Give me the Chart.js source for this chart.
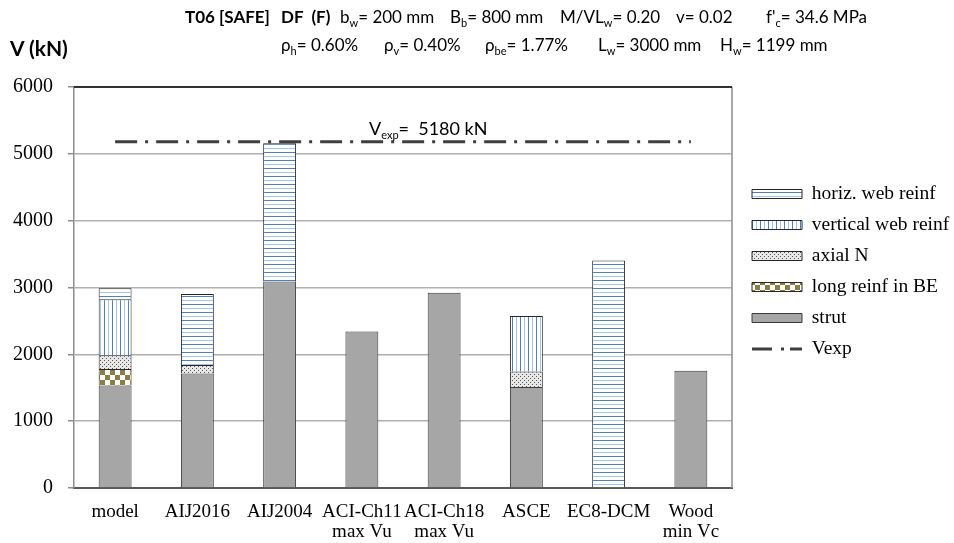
<!DOCTYPE html>
<html><head><meta charset="utf-8">
<script src="https://cdn.jsdelivr.net/npm/chart.js@4.4.1/dist/chart.umd.min.js"></script>
<style>
html,body{margin:0;padding:0;background:#fff;}
#wrap{position:relative;width:954px;height:543px;overflow:hidden;background:#fff;}
canvas{position:absolute;left:0;top:0;}
.t{position:absolute;font-family:Lato,"Open Sans",sans-serif;font-size:17px;color:#000;white-space:pre;line-height:22px;}
.t sub{font-size:11px;vertical-align:baseline;position:relative;top:4px;}
.b{font-weight:bold;}
</style></head><body>
<div id="wrap">
<canvas id="c" width="954" height="543"></canvas>
<div class="t b" style="left:185px;top:6px">T06 [SAFE]</div>
<div class="t b" style="left:281px;top:6px">DF  (F)</div>
<div class="t" style="left:340px;top:6px">b<sub>w</sub>= 200 mm</div>
<div class="t" style="left:450px;top:6px">B<sub>b</sub>= 800 mm</div>
<div class="t" style="left:560px;top:6px">M/VL<sub>w</sub>= 0.20</div>
<div class="t" style="left:676px;top:6px">v= 0.02</div>
<div class="t" style="left:766px;top:6px">f'<sub>c</sub>= 34.6 MPa</div>
<div class="t" style="left:281px;top:34px">ρ<sub>h</sub>= 0.60%</div>
<div class="t" style="left:384px;top:34px">ρ<sub>v</sub>= 0.40%</div>
<div class="t" style="left:485px;top:34px">ρ<sub>be</sub>= 1.77%</div>
<div class="t" style="left:598px;top:34px">L<sub>w</sub>= 3000 mm</div>
<div class="t" style="left:720px;top:34px">H<sub>w</sub>= 1199 mm</div>
<div class="t b" style="left:10px;top:37px;font-size:21px">V (kN)</div>
<div id="vexpLabel" class="t" style="left:369px;top:118px;font-size:18px">V<sub>exp</sub>=  5180 kN</div>
</div>
<script>
// ---- data ----
const categories = ['model', 'AIJ2016', 'AIJ2004', 'ACI-Ch11\nmax Vu', 'ACI-Ch18\nmax Vu', 'ASCE', 'EC8-DCM', 'Wood\nmin Vc'];
const strutValues       = [1535, 1715, 3090, 2340, 2920, 1510, null, 1755];
const longReinfBEValues = [245, null, null, null, null, null, null, null];
const axialNValues      = [205, 125, null, null, null, 235, null, null];
const verticalWebValues = [840, null, null, null, null, 830, null, null];
const horizWebValues    = [165, 1063, 2070, null, null, null, 3405, null];
const vexpValues        = [5180, 5180, 5180, 5180, 5180, 5180, 5180, 5180];
const seriesNames = ['strut', 'long reinf in BE', 'axial N', 'vertical web reinf', 'horiz. web reinf', 'Vexp'];
const yTickMin = 0, yTickMax = 6000, yTickStep = 1000;
const legendOrder = [4, 3, 2, 1, 0, 5];

// ---- patterns ----
function makePattern(w, h, draw) {
  const c = document.createElement('canvas'); c.width = w; c.height = h;
  const g = c.getContext('2d'); g.fillStyle = '#fff'; g.fillRect(0, 0, w, h); draw(g);
  return g.createPattern(c, 'repeat');
}
const pHoriz = makePattern(4, 8, g => { g.fillStyle = '#4f81bd'; g.fillRect(0, 0, 4, 1); g.fillStyle = '#a9c3e6'; g.fillRect(0, 4, 4, 1); });
const pVert = makePattern(8, 4, g => { g.fillStyle = '#4f81bd'; g.fillRect(0, 0, 1, 4); g.fillStyle = '#a9c3e6'; g.fillRect(4, 0, 1, 4); });
const pDots = makePattern(4, 4, g => { g.fillStyle = '#e8e8e8'; g.fillRect(0, 0, 4, 4); g.fillStyle = '#555'; g.fillRect(0, 0, 1, 1); g.fillRect(2, 2, 1, 1); });
const pCheck = makePattern(10, 10, g => { g.fillStyle = '#8a7d45'; g.fillRect(0, 0, 5, 5); g.fillRect(5, 5, 5, 5); });

const serif = "'Liberation Serif','Times New Roman',serif";
const barCommon = { categoryPercentage: 1, barPercentage: 0.4, borderColor: '#262626', borderWidth: 1, stack: 'v' };

const LEG_PAD = 11.5, LEG_FONT = 19.5, LEG_BOX_X = 752, LEG_FIRST_Y = 194;

const layoutPlugin = {
  id: 'layoutTweak',
  afterLayout(chart) {
    const lg = chart.legend;
    if (!lg) return;
    lg.left = LEG_BOX_X - LEG_PAD; lg.right = 954;
    lg.top = LEG_FIRST_Y - LEG_FONT / 2 - LEG_PAD; lg.bottom = 543;
  },
  afterDraw(chart) {
    const ctx = chart.ctx, a = chart.chartArea;
    ctx.save();
    ctx.strokeStyle = '#8c8c8c'; ctx.lineWidth = 1.5;
    ctx.beginPath(); ctx.moveTo(a.right, a.top); ctx.lineTo(a.right, a.bottom); ctx.stroke();
    ctx.strokeStyle = '#000'; ctx.lineWidth = 1.5;
    ctx.beginPath(); ctx.moveTo(a.left, a.top); ctx.lineTo(a.right, a.top); ctx.stroke();
    // Vexp legend symbol
    const hb = chart.legend.legendHitBoxes[5];
    if (hb) {
      const y = hb.top + hb.height / 2, x0 = hb.left;
      ctx.strokeStyle = '#3f3f3f'; ctx.lineWidth = 3; ctx.lineCap = 'butt';
      ctx.beginPath();
      ctx.moveTo(x0, y); ctx.lineTo(x0 + 20, y);
      ctx.moveTo(x0 + 29, y); ctx.lineTo(x0 + 32, y);
      ctx.moveTo(x0 + 38, y); ctx.lineTo(x0 + 50, y);
      ctx.stroke();
    }
    ctx.restore();
    const yPix = chart.scales.y.getPixelForValue(vexpValues[0]);
    document.getElementById('vexpLabel').style.top = (yPix - 25) + 'px';
  }
};

new Chart(document.getElementById('c'), {
  data: {
    labels: categories.map(s => s.split('\n')),
    datasets: [
      Object.assign({ type: 'bar', label: seriesNames[0], data: strutValues, backgroundColor: '#a6a6a6' }, barCommon, { borderColor: '#3a3a3a' }),
      Object.assign({ type: 'bar', label: seriesNames[1], data: longReinfBEValues, backgroundColor: pCheck }, barCommon),
      Object.assign({ type: 'bar', label: seriesNames[2], data: axialNValues, backgroundColor: pDots }, barCommon),
      Object.assign({ type: 'bar', label: seriesNames[3], data: verticalWebValues, backgroundColor: pVert }, barCommon),
      Object.assign({ type: 'bar', label: seriesNames[4], data: horizWebValues, backgroundColor: pHoriz }, barCommon),
      { type: 'line', label: seriesNames[5], data: vexpValues, borderColor: '#3f3f3f', borderWidth: 3,
        borderDash: [22, 8, 3, 8], pointRadius: 0, fill: false, stack: 'vexp', order: -1, tension: 0 }
    ]
  },
  options: {
    responsive: false, animation: false, devicePixelRatio: 1,
    layout: { padding: { left: 0, top: 87, right: 22, bottom: 0 } },
    plugins: {
      tooltip: { enabled: false },
      title: { display: false },
      legend: {
        position: 'right', align: 'start', maxWidth: 200,
        labels: {
          font: { family: serif, size: LEG_FONT }, color: '#000', boxWidth: 50, boxHeight: 9, padding: LEG_PAD,
          generateLabels(chart) {
            const items = Chart.defaults.plugins.legend.labels.generateLabels(chart);
            const out = legendOrder.map(di => items.find(it => it.datasetIndex === di));
            const v = out[5];
            v.fillStyle = 'rgba(0,0,0,0)'; v.strokeStyle = 'rgba(0,0,0,0)'; v.lineWidth = 0; v.lineDash = [];
            return out;
          }
        }
      }
    },
    scales: {
      x: {
        stacked: true,
        grid: { display: false, drawTicks: false },
        border: { display: true, color: '#595959', width: 2 },
        ticks: { font: { family: serif, size: 19, lineHeight: 1.05 }, color: '#000', padding: 14, maxRotation: 0, autoSkip: false },
        afterFit(s) { s.height = 55; }
      },
      y: {
        stacked: true, min: yTickMin, max: yTickMax,
        grid: { color: '#b0b0b0', lineWidth: 1.5, tickLength: 6, tickColor: '#8c8c8c' },
        border: { display: true, color: '#8c8c8c', width: 1.5 },
        ticks: { stepSize: yTickStep, font: { family: serif, size: 20 }, color: '#000', padding: 15,
                 callback: v => String(v) },
        afterFit(s) { s.width = 74; }
      }
    }
  },
  plugins: [layoutPlugin]
});
</script>
</body></html>
